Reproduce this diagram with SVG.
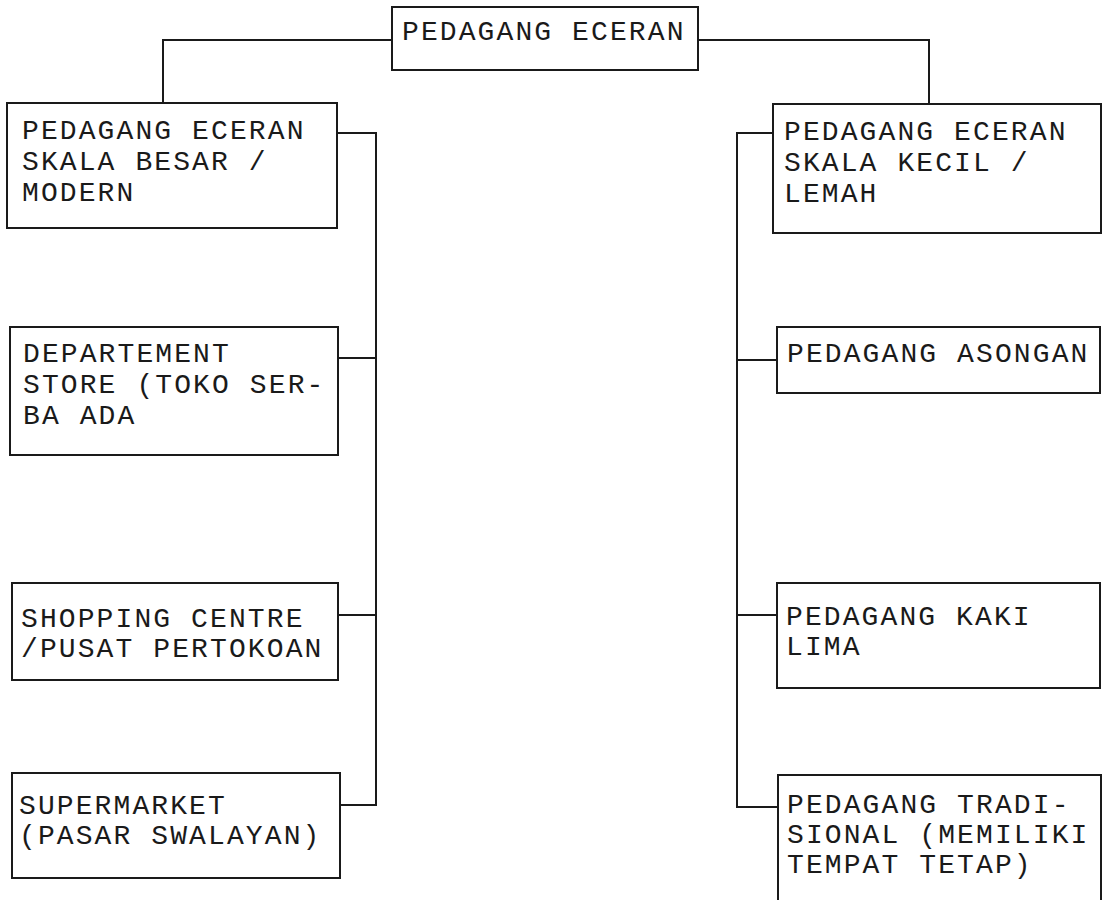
<svg xmlns="http://www.w3.org/2000/svg" width="1106" height="900" viewBox="0 0 1106 900">
<style>
.box{fill:#fff;stroke:#1a1a1a;stroke-width:2}
.lbl{font-family:"Liberation Mono","Courier New",monospace;font-size:28px;letter-spacing:2.1px;fill:#1a1a1a}
.con{fill:none;stroke:#1a1a1a;stroke-width:2}
</style>
<rect width="1106" height="900" fill="#fff"/>
<g id="connectors">
<polyline class="con" points="392,40 163,40 163,103"/>
<polyline class="con" points="698,40 929,40 929,104"/>
<polyline class="con" points="337,133 376,133 376,805 340,805"/>
<line class="con" x1="338" y1="358" x2="376" y2="358"/>
<line class="con" x1="338" y1="615" x2="376" y2="615"/>
<polyline class="con" points="773,133 737,133 737,807 778,807"/>
<line class="con" x1="737" y1="360" x2="777" y2="360"/>
<line class="con" x1="737" y1="615" x2="777" y2="615"/>
</g>
<g id="root">
<rect class="box" x="392" y="7" width="306" height="63"/>
<text class="lbl" x="402" y="40">PEDAGANG ECERAN</text>
</g>
<g id="besar">
<rect class="box" x="7" y="103" width="330" height="125"/>
<text class="lbl" x="22" y="139">PEDAGANG ECERAN</text>
<text class="lbl" x="22" y="170">SKALA BESAR /</text>
<text class="lbl" x="22" y="201">MODERN</text>
</g>
<g id="department">
<rect class="box" x="10" y="327" width="328" height="128"/>
<text class="lbl" x="23" y="362">DEPARTEMENT</text>
<text class="lbl" x="23" y="393">STORE (TOKO SER-</text>
<text class="lbl" x="23" y="424">BA ADA</text>
</g>
<g id="shopping">
<rect class="box" x="12" y="583" width="326" height="97"/>
<text class="lbl" x="21" y="627">SHOPPING CENTRE</text>
<text class="lbl" x="21" y="657">/PUSAT PERTOKOAN</text>
</g>
<g id="supermarket">
<rect class="box" x="12" y="773" width="328" height="105"/>
<text class="lbl" x="19" y="814">SUPERMARKET</text>
<text class="lbl" x="19" y="844">(PASAR SWALAYAN)</text>
</g>
<g id="kecil">
<rect class="box" x="773" y="104" width="328" height="129"/>
<text class="lbl" x="784" y="140">PEDAGANG ECERAN</text>
<text class="lbl" x="784" y="171">SKALA KECIL /</text>
<text class="lbl" x="784" y="202">LEMAH</text>
</g>
<g id="asongan">
<rect class="box" x="777" y="327" width="323" height="66"/>
<text class="lbl" x="787" y="362">PEDAGANG ASONGAN</text>
</g>
<g id="kakilima">
<rect class="box" x="777" y="583" width="323" height="105"/>
<text class="lbl" x="786" y="625">PEDAGANG KAKI</text>
<text class="lbl" x="786" y="655">LIMA</text>
</g>
<g id="tradisional">
<rect class="box" x="778" y="775" width="323" height="140"/>
<text class="lbl" x="787" y="813">PEDAGANG TRADI-</text>
<text class="lbl" x="787" y="843">SIONAL (MEMILIKI</text>
<text class="lbl" x="787" y="873">TEMPAT TETAP)</text>
</g>
</svg>
